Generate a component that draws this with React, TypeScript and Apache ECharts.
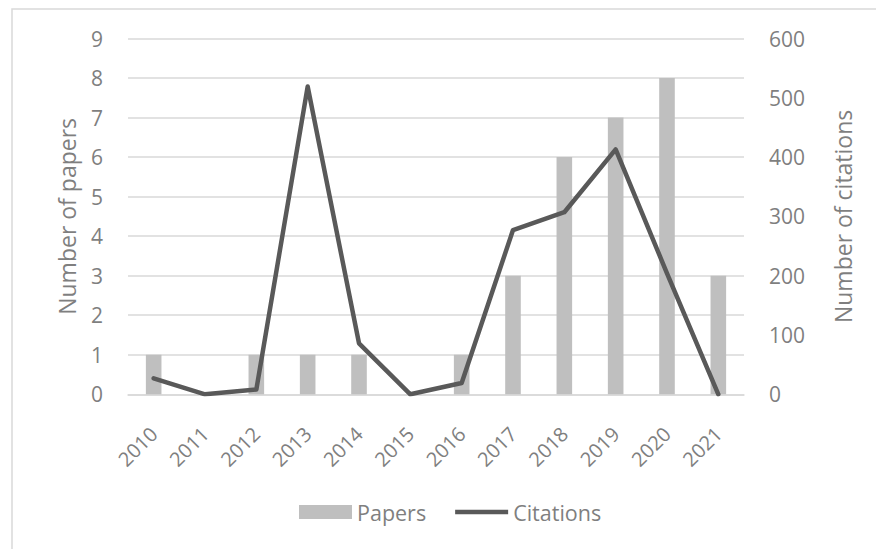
import React, { useEffect, useRef } from "react";
import * as echarts from "echarts";

const years = ["2010", "2011", "2012", "2013", "2014", "2015", "2016", "2017", "2018", "2019", "2020", "2021"];
const papers = [1, 0, 1, 1, 1, 0, 1, 3, 6, 7, 8, 3];
const citations = [27, 0, 8, 519, 86, 0, 19, 277, 307, 413, 204, 0];

const FONT = "'Open Sans', 'Noto Sans', sans-serif";
const TXT = "#7f7f7f";

export default function App() {
  const ref = useRef<HTMLDivElement>(null);
  useEffect(() => {
    if (!ref.current) return;
    const chart = echarts.init(ref.current, undefined, { renderer: "svg" });
    chart.setOption({
      animation: false,
      backgroundColor: "#ffffff",
      textStyle: { fontFamily: FONT },
      graphic: [
        {
          type: "rect",
          shape: { x: 12, y: 9, width: 900, height: 600 },
          style: { fill: "none", stroke: "#d9d9d9", lineWidth: 1.5 },
          silent: true,
        },
      ],
      grid: { left: 128, right: 132, top: 38.5, bottom: 154.7 },
      legend: {
        top: 496,
        left: 294,
        itemGap: 29,
        itemWidth: 53,
        itemHeight: 14,
        textStyle: { color: TXT, fontSize: 21.5, fontFamily: FONT, padding: [0, 0, 0, 0] },
        data: [
          { name: "Papers", icon: "rect" },
          { name: "Citations", icon: "path://M0,0 L54,0 L54,4.5 L0,4.5 Z" },
        ],
      },
      xAxis: {
        type: "category",
        data: years,
        axisLine: { show: true, lineStyle: { color: "#d9d9d9", width: 1.5 } },
        axisTick: { show: false },
        axisLabel: { rotate: 45, color: TXT, fontSize: 20, margin: 36, fontFamily: FONT },
      },
      yAxis: [
        {
          type: "value",
          min: 0,
          max: 9,
          interval: 1,
          name: "Number of papers",
          nameLocation: "middle",
          nameGap: 50,
          nameTextStyle: { color: TXT, fontSize: 23, fontFamily: FONT },
          axisLine: { show: false },
          axisTick: { show: false },
          axisLabel: { color: TXT, fontSize: 21, margin: 25, fontFamily: FONT },
          splitLine: { lineStyle: { color: "#d9d9d9", width: 1.5 } },
        },
        {
          type: "value",
          min: 0,
          max: 600,
          interval: 100,
          name: "Number of citations",
          nameLocation: "middle",
          nameGap: 87,
          nameRotate: 90,
          nameTextStyle: { color: TXT, fontSize: 23, fontFamily: FONT },
          axisLine: { show: false },
          axisTick: { show: false },
          axisLabel: { color: TXT, fontSize: 21, margin: 25, fontFamily: FONT },
          splitLine: { show: false },
        },
      ],
      series: [
        {
          name: "Papers",
          type: "bar",
          data: papers,
          barWidth: 15.6,
          itemStyle: { color: "#bfbfbf" },
          yAxisIndex: 0,
        },
        {
          name: "Citations",
          type: "line",
          data: citations,
          yAxisIndex: 1,
          symbol: "none",
          lineStyle: { color: "#595959", width: 4.5, cap: "round", join: "round" },
          itemStyle: { color: "#595959" },
        },
      ],
    });
    return () => chart.dispose();
  }, []);
  return (
    <div
      ref={ref}
      style={{ position: "fixed", left: 0, top: 0, width: 876, height: 549 }}
    />
  );
}
